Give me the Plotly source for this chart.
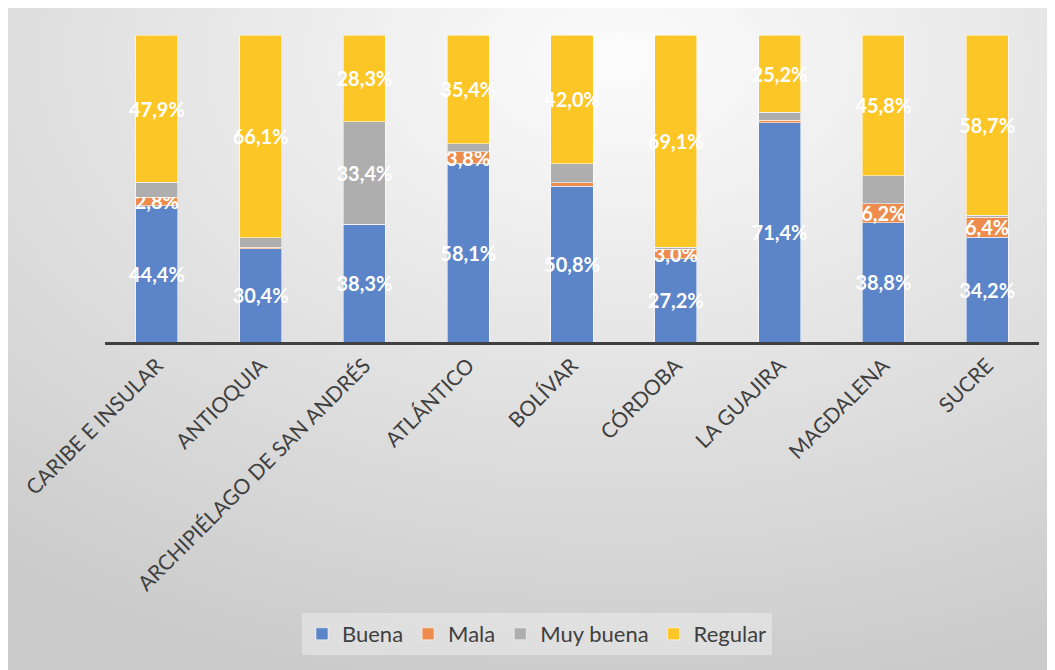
import base64
import plotly.graph_objects as go

categories = ["CARIBE E INSULAR", "ANTIOQUIA", "ARCHIPIÉLAGO DE SAN ANDRÉS", "ATLÁNTICO",
              "BOLÍVAR", "CÓRDOBA", "LA GUAJIRA", "MAGDALENA", "SUCRE"]
buena = [44.4, 30.4, 38.3, 58.1, 50.8, 27.2, 71.4, 38.8, 34.2]
mala = [2.8, 0.4, 0.0, 3.8, 1.0, 3.0, 0.9, 6.2, 6.4]
muy_buena = [4.9, 3.1, 33.4, 2.7, 6.2, 0.7, 2.5, 9.2, 0.7]
regular = [47.9, 66.1, 28.3, 35.4, 42.0, 69.1, 25.2, 45.8, 58.7]

# which values carry a visible label in the reference
show_buena = [True] * 9
show_mala = [True, False, False, True, False, True, False, True, True]
show_muy = [False, False, True, False, False, False, False, False, False]
show_regular = [True] * 9


def fmt(vals, show):
    return [(f"{v:.1f}".replace(".", ",") + "%") if s else "" for v, s in zip(vals, show)]


series = [
    ("Buena", buena, show_buena, "#5B84C9"),
    ("Mala", mala, show_mala, "#ED8C4C"),
    ("Muy buena", muy_buena, show_muy, "#AEAEAE"),
    ("Regular", regular, show_regular, "#FDC627"),
]

fig = go.Figure()
for name, vals, show, color in series:
    fig.add_trace(go.Bar(
        x=categories, y=vals, name=name,
        marker=dict(color=color, line=dict(color="rgba(255,255,255,0.55)", width=1)),
        text=fmt(vals, show), textposition="inside", insidetextanchor="middle",
        textangle=0, textfont=dict(family="Lato", size=20, color="white", weight="bold"),
        hoverinfo="skip",
    ))

# page body has an 8px margin: work in window pixels, convert to figure pixels
OFF = 8
FW, FH = 1055 - OFF, 670 - OFF
L, T, W, H = 105, 35, 934, 307   # plot area in window pixels


def px(x):
    return (x - L) / W


def py(y):
    return (T + H - y) / H


# background gradient (styling only)
svg = (
    '<svg xmlns="http://www.w3.org/2000/svg" width="1049" height="665" preserveAspectRatio="none">'
    '<defs><radialGradient id="g" cx="0.58" cy="0.08" r="0.95" fx="0.58" fy="0.08">'
    '<stop offset="0" stop-color="#fcfcfc"/>'
    '<stop offset="0.5" stop-color="#e3e3e3"/>'
    '<stop offset="1" stop-color="#cbcbcb"/>'
    '</radialGradient></defs>'
    '<rect x="0" y="0" width="1049" height="665" fill="url(#g)"/></svg>'
)
src = "data:image/svg+xml;base64," + base64.b64encode(svg.encode()).decode()

fig.add_layout_image(dict(
    source=src, xref="paper", yref="paper",
    x=px(6), y=py(5), sizex=(1060 - 6) / W, sizey=(675 - 5) / H,
    xanchor="left", yanchor="top", sizing="stretch", layer="below",
))
fig.add_shape(type="line", xref="paper", yref="paper", x0=px(6), x1=px(1060), y0=py(5.5), y1=py(5.5),
              line=dict(color="#bdbdbd", width=1))
fig.add_shape(type="line", xref="paper", yref="paper", x0=px(6.5), x1=px(6.5), y0=py(5), y1=py(675),
              line=dict(color="#bdbdbd", width=1))

fig.update_layout(
    barmode="stack", barnorm="percent", bargap=0.595,
    width=FW, height=FH,
    margin=dict(l=L - OFF, r=FW - (L - OFF) - W, t=T - OFF, b=FH - (T - OFF) - H, autoexpand=False),
    paper_bgcolor="white", plot_bgcolor="rgba(0,0,0,0)",
    uniformtext=dict(minsize=20, mode="show"),
    showlegend=True,
    legend=dict(
        orientation="h", x=px(537), xanchor="center", y=py(613), yanchor="top",
        bgcolor="rgba(236,236,236,0.55)", font=dict(family="Lato", size=22, color="#404040"),
        traceorder="normal", itemwidth=30,
    ),
    xaxis=dict(
        showline=True, linecolor="#404040", linewidth=3, tickangle=-45, ticks="",
        tickfont=dict(family="Lato", size=21, color="#404040"), showgrid=False,
    ),
    yaxis=dict(range=[0, 100], visible=False, showgrid=False),
)

fig.write_html("out.html")
